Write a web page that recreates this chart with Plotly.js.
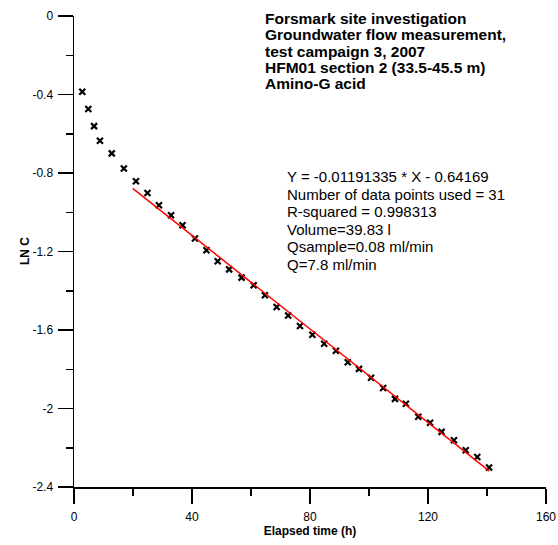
<!DOCTYPE html>
<html>
<head>
<meta charset="utf-8">
<script src="https://cdn.plot.ly/plotly-3.0.1.min.js"></script>
<style>html,body{margin:0;padding:0;background:#ffffff;}</style>
</head>
<body>
<div id="chart" style="width:558px;height:545px;"></div>
<script>
// Elapsed time (h) and LN C of the Amino-G acid concentration
const timeH = [2.8, 4.85, 6.8, 8.8, 12.8, 16.9, 21.0, 24.9, 28.8, 32.9, 36.8, 41.0, 44.9,
  48.7, 52.6, 56.8, 60.9, 64.7, 68.7, 72.6, 76.6, 80.8, 84.8, 88.8, 92.8, 96.6, 100.7,
  104.8, 108.8, 112.5, 116.7, 120.7, 124.6, 128.8, 132.8, 136.7, 140.7];
const lnC = [-0.386, -0.474, -0.561, -0.636, -0.700, -0.777, -0.842, -0.902, -0.964, -1.015,
  -1.066, -1.134, -1.194, -1.250, -1.291, -1.333, -1.372, -1.423, -1.483, -1.526, -1.580,
  -1.624, -1.670, -1.706, -1.764, -1.798, -1.843, -1.896, -1.951, -1.976, -2.042, -2.073,
  -2.119, -2.162, -2.213, -2.247, -2.301];

// Regression line (from the stated fit)
const fitSlope = -0.01191335;
const fitIntercept = -0.64169;
const fitRange = [19.9, 140.8];

// Tick labels
const yTickVals = [0, -0.4, -0.8, -1.2, -1.6, -2, -2.4];
const yTickText = ['0', '-0.4', '-0.8', '-1.2', '-1.6', '-2', '-2.4'];
const xTickVals = [0, 40, 80, 120, 160];
const xTickText = ['0', '40', '80', '120', '160'];

// Texts
const xTitle = 'Elapsed time (h)';
const yTitle = 'LN C';
const titleLines = [
  'Forsmark site investigation',
  'Groundwater flow measurement,',
  'test campaign 3, 2007',
  'HFM01 section 2 (33.5-45.5 m)',
  'Amino-G acid'
];
const statLines = [
  'Y = -0.01191335 * X - 0.64169',
  'Number of data points used = 31',
  'R-squared = 0.998313',
  'Volume=39.83 l',
  'Qsample=0.08 ml/min',
  'Q=7.8 ml/min'
];

const FONT = 'Liberation Sans, Arial, Helvetica, sans-serif';

const fitY = fitRange.map(x => fitSlope * x + fitIntercept);

const traces = [
  {
    x: timeH, y: lnC, type: 'scatter', mode: 'markers',
    marker: {symbol: 'x-thin-open', size: 6, color: '#000000', line: {color: '#000000', width: 2.2}},
    hoverinfo: 'x+y', showlegend: false
  },
  {
    x: fitRange, y: fitY, type: 'scatter', mode: 'lines',
    line: {color: '#ff0000', width: 1.5}, showlegend: false
  }
];

// paper-coordinate helpers for annotation placement
const W = 558, H = 545, M = {l: 74, r: 12, t: 16, b: 58};
const pw = W - M.l - M.r, ph = H - M.t - M.b;
const px = v => (v - M.l) / pw;
const py = v => 1 - (v - M.t) / ph;

const annotations = [];
titleLines.forEach((t, i) => annotations.push({
  text: t, xref: 'paper', yref: 'paper', x: px(263), y: py(18.5 + i * 16.3),
  xanchor: 'left', yanchor: 'middle', showarrow: false,
  font: {family: FONT, size: 15.5, color: '#000000', weight: 'bold'}
}));
statLines.forEach((t, i) => annotations.push({
  text: t, xref: 'paper', yref: 'paper', x: px(285), y: py(177 + i * 17.4),
  xanchor: 'left', yanchor: 'middle', showarrow: false,
  font: {family: FONT, size: 15, color: '#000000'}
}));
annotations.push({
  text: yTitle, xref: 'paper', yref: 'paper', x: px(25), y: py(251),
  xanchor: 'center', yanchor: 'middle', textangle: -90, showarrow: false,
  font: {family: FONT, size: 12, color: '#000000', weight: 'bold'}
});

const layout = {
  width: W, height: H,
  margin: M,
  paper_bgcolor: '#ffffff', plot_bgcolor: '#ffffff',
  showlegend: false,
  font: {family: FONT, size: 12, color: '#000000'},
  xaxis: {
    range: [0, 160], tickmode: 'array', tickvals: xTickVals, ticktext: xTickText,
    ticks: 'outside', ticklen: 15, tickwidth: 1.5, tickcolor: '#000000',
    ticklabelstandoff: 3,
    minor: {dtick: 20, tick0: 0, ticks: 'outside', ticklen: 7, tickwidth: 1.5, tickcolor: '#000000', showgrid: false},
    showline: true, linewidth: 1.5, linecolor: '#000000',
    showgrid: false, zeroline: false,
    tickfont: {family: FONT, size: 12, color: '#000000'},
    title: {text: xTitle, standoff: 2, font: {family: FONT, size: 12, color: '#000000', weight: 'bold'}}
  },
  yaxis: {
    range: [-2.4, 0], tickmode: 'array', tickvals: yTickVals, ticktext: yTickText,
    ticks: 'outside', ticklen: 15, tickwidth: 1.5, tickcolor: '#000000',
    ticklabelstandoff: 2,
    minor: {dtick: 0.2, tick0: 0, ticks: 'outside', ticklen: 7, tickwidth: 1.5, tickcolor: '#000000', showgrid: false},
    showline: true, linewidth: 1.5, linecolor: '#000000',
    showgrid: false, zeroline: false,
    tickfont: {family: FONT, size: 12, color: '#000000'}
  },
  annotations: annotations
};

Plotly.newPlot('chart', traces, layout, {displayModeBar: false, staticPlot: true});
</script>
</body>
</html>
